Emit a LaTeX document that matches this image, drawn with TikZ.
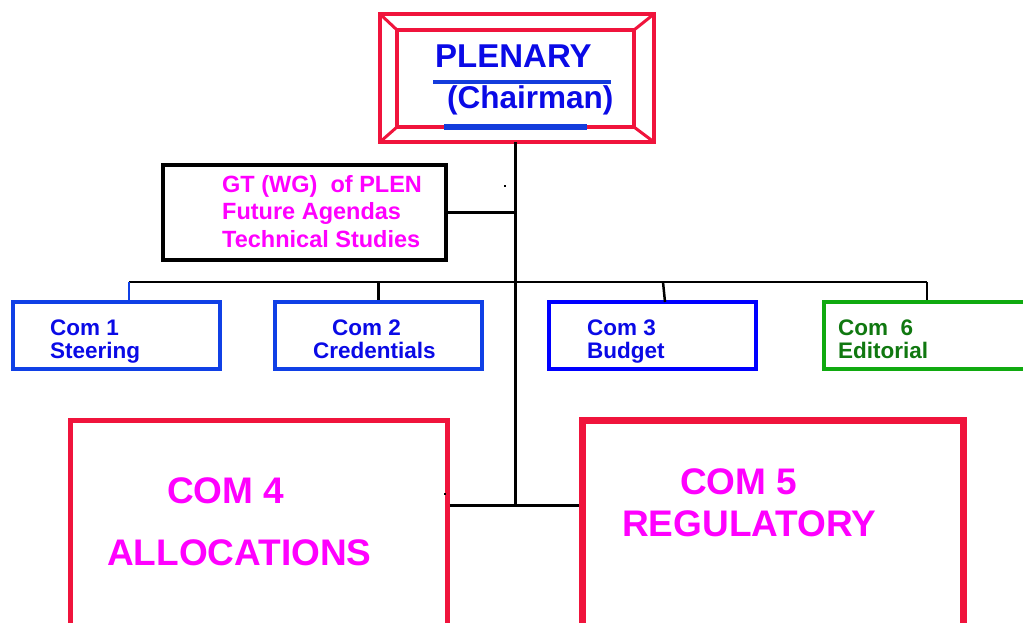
\documentclass[tikz,border=0pt]{standalone}
\usepackage{fontspec}
\setmainfont{Liberation Sans}
\definecolor{plenred}{RGB}{240,20,60}
\definecolor{plenblue}{RGB}{10,10,230}
\definecolor{barblue}{RGB}{20,60,220}
\definecolor{comblue}{RGB}{16,64,230}
\definecolor{comgreen}{RGB}{16,170,16}
\definecolor{textgreen}{RGB}{16,120,16}
\definecolor{pink}{RGB}{255,0,255}
\tikzset{
  combox/.style={draw, line width=4pt, minimum width=207pt, minimum height=67pt},
  bigbox/.style={draw=plenred, minimum width=377pt, minimum height=280pt},
  label/.style={anchor=base west, align=left, inner sep=0pt, font=\bfseries\fontsize{#1}{#1}\selectfont},
  link/.style={line width=2.5pt}
}
\begin{document}
\begin{tikzpicture}[x=1pt,y=-1pt]
\clip (0,0) rectangle (1023,622);
% plenary, bevelled frame
\node[draw=plenred, line width=4pt, outer sep=0pt, minimum width=274pt, minimum height=128pt] (plen) at (517,78) {};
\node[draw=plenred, line width=4pt, outer sep=0pt, minimum width=237pt, minimum height=97pt] (plenin) at (515.5,78.5) {};
\draw[plenred, line width=3pt] (plen.north west) -- (plenin.north west)
  (plen.north east) -- (plenin.north east)
  (plen.south west) -- (plenin.south west)
  (plen.south east) -- (plenin.south east);
\node[label=33, text=plenblue] (plentitle) at (435,67) {PLENARY};
\draw[barblue, line width=4pt] (433,82) -- (611,82);
\node[label=31.5, text=plenblue] (chair) at (447,108) {(Chairman)};
\draw[barblue, line width=6pt] (444,127) -- (587,127);
% working group
\node[draw, line width=4pt, minimum width=283pt, minimum height=95pt] (gt) at (304.5,212.5) {};
\node[label=23.5, text=pink] (gttext) at (222,247) {GT (WG)\ \ of PLEN\\[4pt]Future Agendas\\[4pt]Technical Studies};
% committees
\node[combox, draw=comblue] (com1) at (116.5,335.5) {};
\node[combox, draw=comblue] (com2) at (378.5,335.5) {};
\node[combox, draw=blue] (com3) at (652.5,335.5) {};
\node[combox, draw=comgreen] (com6) at (927,335.5) {};
\node[label=22.5, text=plenblue] (t1) at (50,358) {Com 1\\[0.5pt]Steering};
\node[label=22.5, text=plenblue] (t2) at (313,358) {\hspace*{19pt}Com 2\\[0.5pt]Credentials};
\node[label=22.5, text=plenblue] (t3) at (587,358) {Com 3\\[0.5pt]Budget};
\node[label=22.5, text=textgreen] (t6) at (838,358) {Com\ \ 6\\[0.5pt]Editorial};
\node[bigbox, line width=5pt] (com4) at (258.5,560) {};
\node[bigbox, line width=7pt, minimum width=381pt] (com5) at (772.5,560) {};
\node[label=37, text=pink] (t4a) at (167,503) {COM 4};
\node[label=37, text=pink] (t4b) at (107,565) {ALLOCATIONS};
\node[label=37, text=pink] (t5a) at (680,494) {COM 5};
\node[label=37, text=pink] (t5b) at (622,536) {REGULATORY};
% connectors
\coordinate (bus) at (515,282);
\coordinate (mid) at (515,505);
\coordinate (b1) at (129,282);
\coordinate (b2) at (378,282);
\coordinate (b3) at (663,282);
\coordinate (b6) at (927,282);
\draw[link, line width=3pt] (plen.south -| bus) -- (mid);
\draw[link] (gt.east) -- (gt.east -| bus);
\draw[link] (b1) -- (b6);
\draw[comblue, line width=1.5pt] (b1) -- (b1 |- com1.north);
\draw[link, line width=3pt] (b2) -- (b2 |- com2.north);
\draw[link] (b3) -- (665,302);
\draw[link] (b6) -- (b6 |- com6.north);
\draw[link, line width=3pt] (com4.east |- mid) -- (com5.west |- mid);
\fill (504,185) rectangle (506,187);
\fill (444,493) rectangle (446,495);
\end{tikzpicture}
\end{document}
